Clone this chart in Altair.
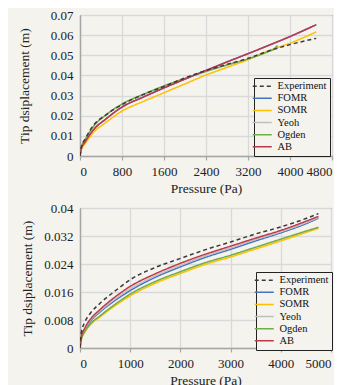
import altair as alt
import pandas as pd

series = ["Experiment", "FOMR", "SOMR", "Yeoh", "Ogden", "AB"]
colors = ["#3a3a3a", "#4472C4", "#FFC000", "#BFBFBF", "#70AD47", "#C0394B"]
dashes = [[4, 3], [1, 0], [1, 0], [1, 0], [1, 0], [1, 0]]
draw_order = ["FOMR", "Yeoh", "SOMR", "Ogden", "AB", "Experiment"]

# ---- top panel (0 - 4800 Pa) ----
top_p = [0, 25, 100, 250, 500, 800, 1200, 1600, 2000, 2400, 2800, 3200, 3600, 4000, 4500]
top_exp = [0, 0.0045, 0.0085, 0.0150, 0.0205, 0.0255, 0.0305, 0.0345, 0.0388, 0.0424, 0.0455, 0.0485, 0.0522, 0.0553, 0.0584]
top_fomr = [0, 0.0035, 0.0070, 0.0128, 0.0185, 0.0243, 0.0292, 0.0338, 0.0382, 0.0425, 0.0467, 0.0508, 0.0550, 0.0593, 0.0652]
top_somr = [0, 0.0030, 0.0062, 0.0115, 0.0168, 0.0223, 0.0270, 0.0314, 0.0358, 0.0402, 0.0440, 0.0478, 0.0523, 0.0560, 0.0616]
top_ab = [0, 0.0035, 0.0070, 0.0128, 0.0185, 0.0243, 0.0292, 0.0338, 0.0382, 0.0425, 0.0467, 0.0508, 0.0550, 0.0593, 0.0652]
top_og_p = [0, 25, 100, 250, 500, 800, 1200, 1600, 2000, 2400, 2800, 3200, 3600, 3700, 3760]
top_ogden = [0, 0.0042, 0.0082, 0.0145, 0.0205, 0.0258, 0.0305, 0.0348, 0.0385, 0.0420, 0.0452, 0.0482, 0.0520, 0.0532, 0.0548]
top_yeoh = [0, 0.0042, 0.0082, 0.0145, 0.0205, 0.0258, 0.0305, 0.0348, 0.0385, 0.0420, 0.0452, 0.0482, 0.0520, 0.0532, 0.0548]
top_xticks = [0, 800, 1600, 2400, 3200, 4000, 4800]
top_yticks = [0, 0.01, 0.02, 0.03, 0.04, 0.05, 0.06, 0.07]

# ---- bottom panel (0 - 5000 Pa) ----
bot_p = [0, 25, 100, 200, 400, 700, 1000, 1500, 2000, 2500, 3000, 3500, 4000, 4500, 4750]
bot_exp = [0, 0.0042, 0.0075, 0.0098, 0.0128, 0.0163, 0.0195, 0.0230, 0.0256, 0.0281, 0.0303, 0.0326, 0.0346, 0.0370, 0.0384]
bot_fomr = [0, 0.0027, 0.0053, 0.0075, 0.0103, 0.0136, 0.0164, 0.0202, 0.0232, 0.0259, 0.0282, 0.0306, 0.0329, 0.0355, 0.0371]
bot_somr = [0, 0.0022, 0.0046, 0.0065, 0.0089, 0.0121, 0.0149, 0.0185, 0.0213, 0.0239, 0.0260, 0.0283, 0.0306, 0.0330, 0.0342]
bot_yeoh = [0, 0.0028, 0.0055, 0.0078, 0.0106, 0.0140, 0.0169, 0.0206, 0.0236, 0.0263, 0.0286, 0.0310, 0.0332, 0.0358, 0.0373]
bot_ogden = [0, 0.0024, 0.0048, 0.0068, 0.0092, 0.0125, 0.0154, 0.0190, 0.0218, 0.0244, 0.0265, 0.0288, 0.0311, 0.0334, 0.0345]
bot_ab = [0, 0.0030, 0.0058, 0.0081, 0.0110, 0.0146, 0.0176, 0.0212, 0.0242, 0.0268, 0.0291, 0.0314, 0.0336, 0.0362, 0.0376]
bot_xticks = [0, 1000, 2000, 3000, 4000, 5000]
bot_yticks = [0, 0.008, 0.016, 0.024, 0.032, 0.04]


def frame(pairs):
    rows = []
    for name in draw_order:
        xs, ys = pairs[name]
        for i, (x, y) in enumerate(zip(xs, ys)):
            rows.append({"series": name, "P": x, "d": y, "i": i})
    return pd.DataFrame(rows)


top_df = frame({
    "Experiment": (top_p, top_exp), "FOMR": (top_p, top_fomr), "SOMR": (top_p, top_somr),
    "Yeoh": (top_og_p, top_yeoh), "Ogden": (top_og_p, top_ogden), "AB": (top_p, top_ab),
})
bot_df = frame({
    "Experiment": (bot_p, bot_exp), "FOMR": (bot_p, bot_fomr), "SOMR": (bot_p, bot_somr),
    "Yeoh": (bot_p, bot_yeoh), "Ogden": (bot_p, bot_ogden), "AB": (bot_p, bot_ab),
})

FONT = "Liberation Serif"


def panel(df, xticks, yticks, xmax, ymax, w, h, lx, ly, title_x):
    legend = alt.Legend(title=None, orient="none", legendX=lx, legendY=ly)
    return alt.Chart(df).mark_line(strokeWidth=1.5, clip=True, interpolate="monotone").encode(
        x=alt.X("P:Q", scale=alt.Scale(domain=[0, xmax], nice=False, zero=True),
                axis=alt.Axis(values=xticks, format="d", title="Pressure (Pa)",
                              tickSize=4, labelPadding=5, titlePadding=3)),
        y=alt.Y("d:Q", scale=alt.Scale(domain=[0, ymax], nice=False),
                axis=alt.Axis(values=yticks, format="~g", title="Tip dsiplacement (m)",
                              ticks=False, labelPadding=7, titleX=title_x,
                              titleBaseline="middle")),
        color=alt.Color("series:N", scale=alt.Scale(domain=series, range=colors), legend=legend),
        strokeDash=alt.StrokeDash("series:N", scale=alt.Scale(domain=series, range=dashes), legend=legend),
        order="i:Q",
    ).properties(width=w, height=h)


top = panel(top_df, top_xticks, top_yticks, 4800, 0.07, 252, 141, 174, 63, -56)
bot = panel(bot_df, bot_xticks, bot_yticks, 5000, 0.04, 251, 140, 176, 64, -53)

chart = alt.vconcat(top, bot, spacing=6).resolve_scale(
    color="independent", strokeDash="independent"
).resolve_legend(color="independent", strokeDash="independent").properties(
    padding={"left": 8, "top": 0, "right": 0, "bottom": 0}
).configure(
    background="#F4F3EE", font=FONT
).configure_view(
    stroke="#404040", strokeWidth=1, fill="#F4F3EE"
).configure_axis(
    labelFont=FONT, titleFont=FONT, labelFontSize=13, titleFontSize=13.5,
    titleFontWeight="normal", labelColor="#222222", titleColor="#222222",
    gridColor="#D9D9D9", gridWidth=1.3, domainColor="#A6A6A6", domainWidth=1.5,
    tickColor="#A6A6A6", tickWidth=1.2,
).configure_legend(
    symbolType="M-3.8,0H3.8", symbolSize=25, symbolStrokeWidth=1.5,
    labelFont=FONT, labelFontSize=10.5, labelColor="#111111", labelOffset=10,
    strokeColor="#222222", fillColor="#F4F3EE", padding=3, rowPadding=1.1,
    labelLimit=200,
)

chart.save("out.html", embed_options={"renderer": "svg", "actions": False})
